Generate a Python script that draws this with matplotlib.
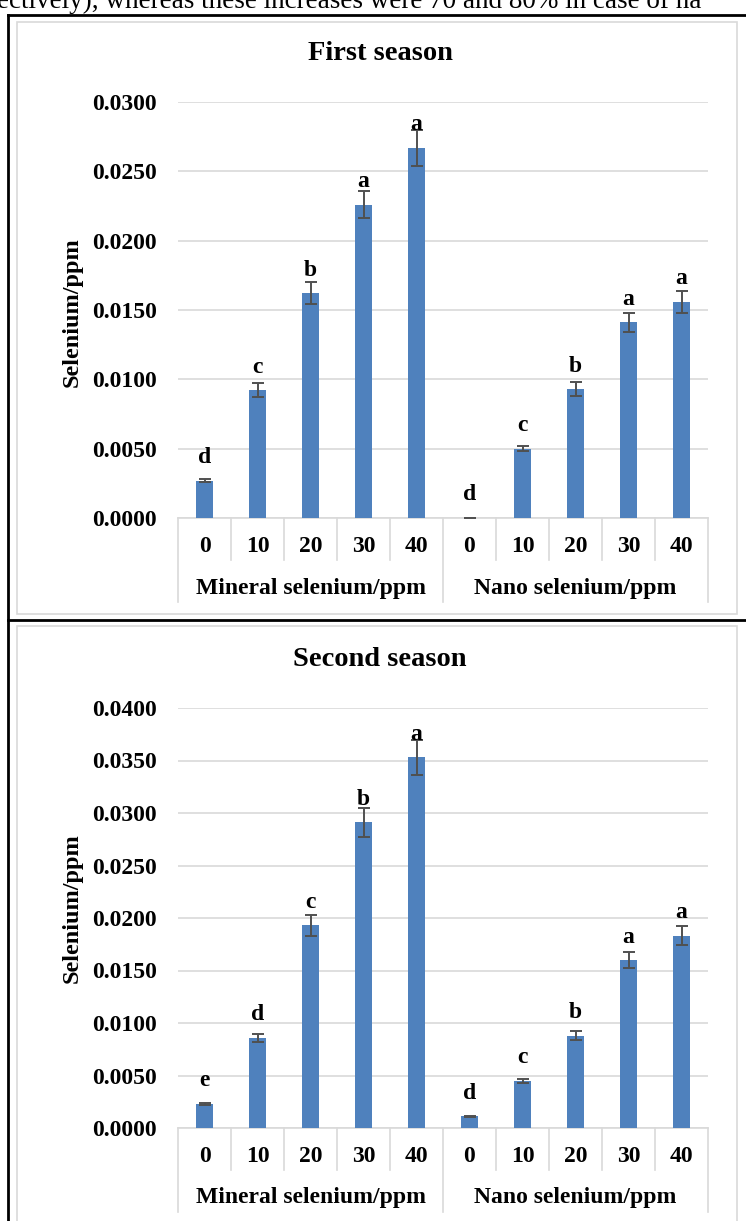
import numpy as np
import matplotlib

matplotlib.use("Agg")
import matplotlib.pyplot as plt

# data
doses = ["0", "10", "20", "30", "40", "0", "10", "20", "30", "40"]
groups = ["Mineral selenium/ppm", "Nano selenium/ppm"]

season1_vals = [0.0027, 0.0092, 0.0162, 0.0226, 0.0267, 0.00003, 0.0050, 0.0093, 0.0141, 0.0156]
season1_errs = [0.0001, 0.0005, 0.0008, 0.0010, 0.0013, 0.0, 0.0002, 0.0005, 0.0007, 0.0008]
season1_letters = ["d", "c", "b", "a", "a", "d", "c", "b", "a", "a"]

season2_vals = [0.0023, 0.0086, 0.0193, 0.0291, 0.0353, 0.0011, 0.0045, 0.0088, 0.0160, 0.0183]
season2_errs = [0.0001, 0.0004, 0.0010, 0.0014, 0.0017, 0.00005, 0.0002, 0.0004, 0.0008, 0.0009]
season2_letters = ["e", "d", "c", "b", "a", "d", "c", "b", "a", "a"]

W, H = 746, 1221
SERIF = "Liberation Serif"
BLUE = "#4F81BD"
LGRAY = "#D9D9D9"

fig = plt.figure(figsize=(W / 100, H / 100), dpi=100)


def fx(px):
    return px / W


def fy(py):
    return 1 - py / H


def panel(top, bottom, ymax, vals, errs, letters, title, title_y, ylab_y):
    left, right = 178, 708
    hpx = bottom - top
    ax = fig.add_axes([fx(left), fy(bottom), fx(right - left), hpx / H])
    x = np.arange(len(vals))
    ax.bar(x, vals, width=0.32, color=BLUE, zorder=3)
    ax.errorbar(x, vals, yerr=errs, fmt="none", ecolor="#505050",
                elinewidth=1.4, capsize=4, capthick=1.4, zorder=4)
    for xi, v, lab in zip(x, vals, letters):
        ax.annotate(lab, (xi, v), xytext=(0, 12.5), textcoords="offset points",
                    ha="center", va="baseline", fontsize=17,
                    fontweight="bold", family=SERIF, zorder=5)

    ax.set_xlim(-0.5, len(vals) - 0.5)
    ax.set_ylim(0, ymax)
    ticks = np.arange(0, ymax + 1e-9, 0.005)
    ax.set_yticks(ticks)
    ax.set_yticklabels([f"{t:.4f}" for t in ticks],
                       fontsize=17, fontweight="bold", family=SERIF)
    ax.tick_params(axis="y", length=0, pad=15)
    ax.set_xticks([])
    ax.yaxis.grid(True, color=LGRAY, lw=1.2, zorder=0)
    for s in ["top", "left", "right"]:
        ax.spines[s].set_visible(False)
    ax.spines["bottom"].set_color(LGRAY)
    ax.spines["bottom"].set_linewidth(1.2)

    tr = ax.get_xaxis_transform()
    for k in range(len(vals) + 1):
        depth = 84 if k % 5 == 0 else 42
        ax.plot([k - 0.5, k - 0.5], [0, -depth / hpx], transform=tr,
                color=LGRAY, lw=1.2, clip_on=False)
    for xi, d in zip(x, doses):
        ax.text(xi, -28 / hpx, d, transform=tr, ha="center", va="center",
                fontsize=17, fontweight="bold", family=SERIF)
    for g, name in enumerate(groups):
        ax.text(g * 5 + 2, -70 / hpx, name, transform=tr, ha="center",
                va="center", fontsize=17, fontweight="bold", family=SERIF)

    fig.text(fx(380), fy(title_y), title, ha="center", va="center",
             fontsize=20.5, fontweight="bold", family=SERIF)
    fig.text(fx(72), fy(ylab_y), "Selenium/ppm", ha="center", va="center",
             rotation=90, fontsize=17.5, fontweight="bold", family=SERIF)
    return ax


panel(102, 518, 0.03, season1_vals, season1_errs, season1_letters,
      "First season", 53, 312)
panel(708, 1128, 0.04, season2_vals, season2_errs, season2_letters,
      "Second season", 659, 908)

# chart area borders and the surrounding table lines
for y0, y1 in [(22, 614), (626, H + 5)]:
    fig.add_artist(plt.Rectangle((fx(17), fy(y1)), fx(737 - 17), (y1 - y0) / H,
                                 fill=False, ec=LGRAY, lw=1.2))
fig.add_artist(plt.Line2D([fx(8), 1], [fy(15), fy(15)], color="black", lw=2))
fig.add_artist(plt.Line2D([fx(8), 1], [fy(620), fy(620)], color="black", lw=2))
fig.add_artist(plt.Line2D([fx(8), fx(8)], [fy(15), 0], color="black", lw=2))

# cut-off line of document text above the table (cropped in the source too)
fig.text(fx(-3), fy(8), "ectively), whereas these increases were 70 and 80% in case of na",
         fontsize=19.5, family=SERIF, va="baseline", ha="left")

fig.savefig("out.png", dpi=100)
